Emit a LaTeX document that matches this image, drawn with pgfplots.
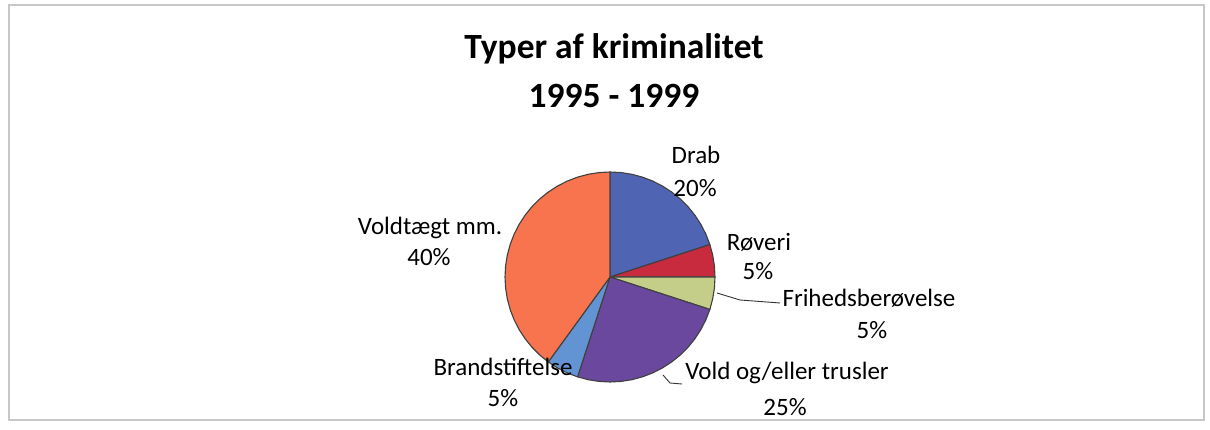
\documentclass[border=0pt]{standalone}
\usepackage{pgfplots}
\pgfplotsset{compat=1.18}
\usepgfplotslibrary{polar}
\usepackage{fontspec}
\setmainfont{Carlito}
\definecolor{cDrab}{RGB}{80,100,180}
\definecolor{cRov}{RGB}{200,42,62}
\definecolor{cFri}{RGB}{196,206,136}
\definecolor{cVold}{RGB}{106,72,158}
\definecolor{cBrand}{RGB}{98,148,212}
\definecolor{cVoldt}{RGB}{248,116,78}
\begin{document}
\begin{tikzpicture}[x=1pt,y=1pt]
\path (0,0) rectangle (1210,430);
\draw[black!22, line width=1.5pt] (9,425) rectangle (1204,10);
\node[font=\fontsize{35.5}{42}\selectfont\bfseries, anchor=base] at (614,371) {Typer af kriminalitet};
\node[font=\fontsize{35.5}{42}\selectfont\bfseries, anchor=base] at (614,322) {1995 - 1999};
\begin{polaraxis}[at={(610pt,153pt)}, anchor=origin, hide axis, scale only axis,
  width=210pt, height=210pt, ymin=0, ymax=1, clip=false,
  every axis plot/.append style={draw=black!75, line width=1.1pt, line join=round}]
% Drab 20%
\addplot[fill=cDrab] coordinates {(0,0) (18,1) (24,1) (30,1) (36,1) (42,1) (48,1) (54,1) (60,1) (66,1) (72,1) (78,1) (84,1) (90,1) (0,0)};
% Roveri 5%
\addplot[fill=cRov] coordinates {(0,0) (0,1) (6,1) (12,1) (18,1) (0,0)};
% Frihedsberoevelse 5%
\addplot[fill=cFri] coordinates {(0,0) (-18,1) (-12,1) (-6,1) (0,1) (0,0)};
% Vold og/eller trusler 25%
\addplot[fill=cVold] coordinates {(0,0) (-108,1) (-102,1) (-96,1) (-90,1) (-84,1) (-78,1) (-72,1) (-66,1) (-60,1) (-54,1) (-48,1) (-42,1) (-36,1) (-30,1) (-24,1) (-18,1) (0,0)};
% Brandstiftelse 5%
\addplot[fill=cBrand] coordinates {(0,0) (-126,1) (-120,1) (-114,1) (-108,1) (0,0)};
% Voldtaegt mm. 40%
\addplot[fill=cVoldt] coordinates {(0,0) (90,1) (96,1) (102,1) (108,1) (114,1) (120,1) (126,1) (132,1) (138,1) (144,1) (150,1) (156,1) (162,1) (168,1) (174,1) (180,1) (186,1) (192,1) (198,1) (204,1) (210,1) (216,1) (222,1) (228,1) (234,1) (0,0)};
\end{polaraxis}
\begin{scope}[every node/.style={font=\fontsize{25}{30}\selectfont, inner sep=0pt}]
\node at (696,275) {Drab};
\node at (695,242) {20\%};
\node at (759,188) {Røveri};
\node at (758,159) {5\%};
\node at (869,132) {Frihedsberøvelse};
\node at (872,100) {5\%};
\node at (787,57) {Vold og/eller trusler};
\node at (785,23) {25\%};
\node at (503,63) {Brandstiftelse};
\node at (503,32) {5\%};
\node at (430,202) {Voldtægt mm.};
\node at (429,173) {40\%};
\end{scope}
\draw[black!80, line width=0.9pt] (717,137) -- (740,130) -- (780,127);
\draw[black!80, line width=0.9pt] (663,55) -- (670,47) -- (682,46);
\end{tikzpicture}
\end{document}
